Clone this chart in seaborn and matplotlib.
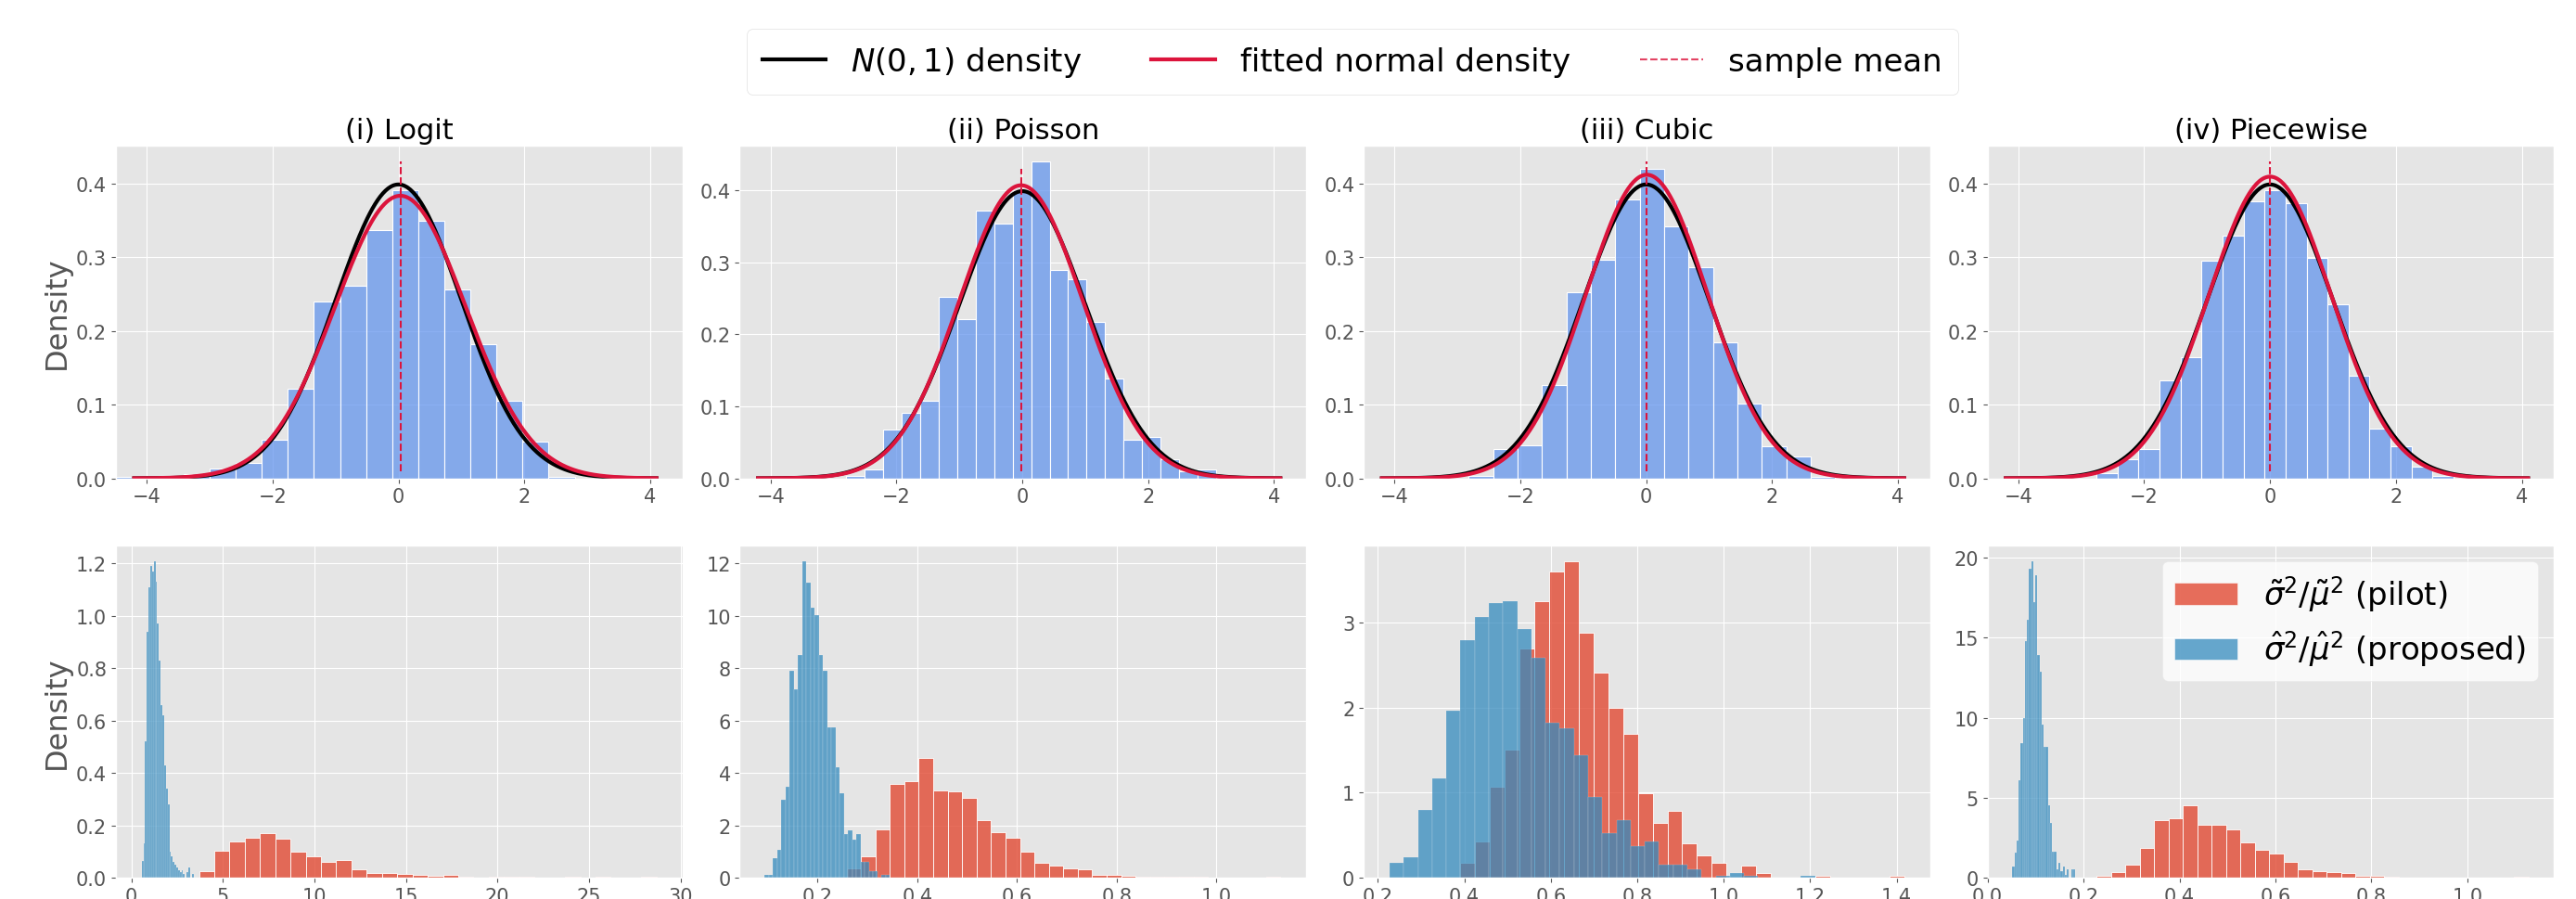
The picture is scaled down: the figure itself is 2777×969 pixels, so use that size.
import numpy as np
import pandas as pd
import matplotlib
matplotlib.use('Agg')
import matplotlib.pyplot as plt
import seaborn as sns
from matplotlib.lines import Line2D
from matplotlib.patches import Patch

plt.style.use('ggplot')
plt.rcParams['font.family'] = ['DejaVu Sans']

panel_titles = ['(i) Logit', '(ii) Poisson', '(iii) Cubic', '(iv) Piecewise']

# top row: standardized statistic, density height per bin
z_start = [-4.66, -2.80, -2.82, -2.76]
z_width = [0.4145, 0.294, 0.388, 0.334]
z_logit = [0.002, 0.0, 0.0, 0.006, 0.013, 0.021, 0.052, 0.122, 0.240, 0.262,
           0.337, 0.391, 0.349, 0.256, 0.182, 0.105, 0.050, 0.002]
z_poisson = [0.003, 0.012, 0.0675, 0.091, 0.108, 0.252, 0.221, 0.372, 0.354, 0.400,
             0.440, 0.289, 0.276, 0.217, 0.138, 0.053, 0.057, 0.026, 0.0095, 0.012]
z_cubic = [0.0034, 0.040, 0.045, 0.127, 0.252, 0.297, 0.378, 0.420, 0.342, 0.287,
           0.185, 0.102, 0.043, 0.030, 0.002]
z_piecewise = [0.0076, 0.026, 0.040, 0.133, 0.165, 0.295, 0.329, 0.376, 0.391, 0.373,
               0.299, 0.236, 0.139, 0.067, 0.044, 0.016, 0.003]
z_heights = [z_logit, z_poisson, z_cubic, z_piecewise]

# fitted normal parameters / sample means
fit_mean = [0.03, -0.02, 0.01, 0.0]
fit_sd = [1.04, 0.98, 0.968, 0.974]
curve_range = (-4.2, 4.1)
mean_line = (0.01, 0.43)

# bottom row: variance ratio histograms (30 bins each)
pilot_start = [3.70, 0.258, 0.3897, 0.227]
pilot_width = [0.833, 0.029, 0.03428, 0.030]
prop_start = [0.566, 0.0933, 0.227, 0.0516]
prop_width = [0.0945, 0.0084, 0.0328, 0.00437]

pilot_logit = [0.025, 0.104, 0.139, 0.152, 0.171, 0.148, 0.100, 0.081, 0.061, 0.066,
               0.033, 0.018, 0.018, 0.014, 0.011, 0.006, 0.011, 0.004, 0.0, 0.005,
               0.002, 0.002, 0.0, 0.0, 0.002, 0.0, 0.002, 0.0, 0.0, 0.002]
prop_logit = [0.065, 0.13, 0.52, 0.94, 1.11, 1.19, 1.17, 1.21, 1.13, 0.97,
              0.83, 0.66, 0.62, 0.43, 0.34, 0.28, 0.10, 0.08, 0.06, 0.05,
              0.04, 0.03, 0.02, 0.03, 0.015, 0.0, 0.02, 0.04, 0.0, 0.015]
pilot_poisson = [0.35, 0.83, 1.85, 3.57, 3.70, 4.56, 3.33, 3.29, 3.03, 2.19,
                 1.75, 1.53, 0.98, 0.57, 0.47, 0.34, 0.31, 0.12, 0.12, 0.08,
                 0.05, 0.02, 0.02, 0.02, 0.02, 0.0, 0.0, 0.0, 0.0, 0.03]
prop_poisson = [0.12, 0.12, 0.73, 1.08, 2.97, 3.47, 7.90, 7.19, 8.50, 12.09,
                11.26, 10.29, 10.02, 8.50, 7.89, 5.74, 5.74, 4.20, 3.23, 1.67,
                1.79, 1.44, 1.66, 0.61, 0.61, 0.26, 0.26, 0.0, 0.12, 0.12]
pilot_cubic = [0.17, 0.43, 1.07, 1.51, 2.70, 3.26, 3.61, 3.73, 2.88, 2.41,
               2.00, 1.69, 0.99, 0.64, 0.79, 0.40, 0.26, 0.175, 0.0, 0.145,
               0.05, 0.0, 0.0, 0.0, 0.02, 0.0, 0.0, 0.0, 0.0, 0.025]
prop_cubic = [0.18, 0.24, 0.80, 1.165, 1.97, 2.80, 3.07, 3.23, 3.26, 2.93,
              2.59, 1.82, 1.76, 1.44, 0.95, 0.52, 0.68, 0.375, 0.43, 0.153,
              0.153, 0.095, 0.0, 0.02, 0.055, 0.02, 0.0, 0.0, 0.0, 0.02]
pilot_piecewise = [0.1, 0.35, 0.83, 1.87, 3.59, 3.71, 4.54, 3.32, 3.28, 3.03,
                   2.18, 1.74, 1.51, 0.97, 0.54, 0.42, 0.33, 0.27, 0.135, 0.12,
                   0.08, 0.02, 0.02, 0.0, 0.02, 0.02, 0.02, 0.0, 0.0, 0.03]
prop_piecewise = [0.68, 1.58, 2.3, 6.1, 8.4, 10.0, 14.8, 16.1, 19.3, 19.8,
                  17.2, 18.9, 13.9, 12.9, 9.6, 8.2, 8.2, 4.5, 3.4, 1.6,
                  1.6, 0.5, 0.9, 0.4, 0.7, 0.2, 0.5, 0.0, 0.5, 0.5]
pilot_heights = [pilot_logit, pilot_poisson, pilot_cubic, pilot_piecewise]
prop_heights = [prop_logit, prop_poisson, prop_cubic, prop_piecewise]

top_xlim = (-4.49, 4.51)
bottom_xlim = [(-0.84, 30.1), (0.044, 1.18), (0.167, 1.477), (0.0, 1.18)]
bottom_xticks = [[0, 5, 10, 15, 20, 25, 30], [0.2, 0.4, 0.6, 0.8, 1.0],
                 [0.2, 0.4, 0.6, 0.8, 1.0, 1.2, 1.4], [0.0, 0.2, 0.4, 0.6, 0.8, 1.0]]
bottom_yticks = [[0.0, 0.2, 0.4, 0.6, 0.8, 1.0, 1.2], [0, 2, 4, 6, 8, 10, 12],
                 [0, 1, 2, 3], [0, 5, 10, 15, 20]]

HIST_BLUE = 'cornflowerblue'
RED = '#E24A33'
BLUE = '#348ABD'
CRIMSON = 'crimson'


def binned_hist(ax, start, width, heights, **kw):
    heights = np.asarray(heights, dtype=float)
    edges = start + width * np.arange(len(heights) + 1)
    df = pd.DataFrame({'value': (edges[:-1] + edges[1:]) / 2, 'dens': heights})
    sns.histplot(data=df, x='value', weights='dens', bins=list(edges),
                 stat='count', ax=ax, **kw)


fig, axes = plt.subplots(2, 4, figsize=(27.77, 9.70), dpi=100)
fig.subplots_adjust(left=0.045, right=0.9914, top=0.837, bottom=0.0237,
                    wspace=0.1015, hspace=0.201)

for i in range(4):
    ax = axes[0, i]
    binned_hist(ax, z_start[i], z_width[i], z_heights[i], color=HIST_BLUE,
                alpha=0.75, edgecolor='white', linewidth=0.8)
    xs = np.linspace(curve_range[0], curve_range[1], 400)
    std_pdf = np.exp(-xs ** 2 / 2) / np.sqrt(2 * np.pi)
    fit_pdf = np.exp(-(xs - fit_mean[i]) ** 2 / (2 * fit_sd[i] ** 2)) / (fit_sd[i] * np.sqrt(2 * np.pi))
    sns.lineplot(x=xs, y=std_pdf, ax=ax, color='black', linewidth=3)
    sns.lineplot(x=xs, y=fit_pdf, ax=ax, color=CRIMSON, linewidth=3)
    ax.vlines(fit_mean[i], mean_line[0], mean_line[1], color=CRIMSON,
              linestyle='--', linewidth=1.5)
    ax.set_xlim(*top_xlim)
    ax.set_xticks([-4, -2, 0, 2, 4])
    ax.set_yticks([0.0, 0.1, 0.2, 0.3, 0.4])
    ax.set_title(panel_titles[i], fontsize=22, color='black', pad=6)

    ax2 = axes[1, i]
    binned_hist(ax2, pilot_start[i], pilot_width[i], pilot_heights[i], color=RED,
                alpha=0.8, edgecolor='white', linewidth=0.6)
    binned_hist(ax2, prop_start[i], prop_width[i], prop_heights[i], color=BLUE,
                alpha=0.75, edgecolor=(1, 1, 1, 0.4), linewidth=0.3)
    ax2.set_xlim(*bottom_xlim[i])
    ax2.set_xticks(bottom_xticks[i])
    ax2.set_yticks(bottom_yticks[i])

for r in range(2):
    for c in range(4):
        ax = axes[r, c]
        ax.set_xlabel('')
        ax.set_ylabel('Density' if c == 0 else '', fontsize=23, color='#555555')
        ax.tick_params(labelsize=15, labelcolor='#555555')

ratio_handles = [Patch(facecolor=RED, alpha=0.8, edgecolor='white'),
                 Patch(facecolor=BLUE, alpha=0.75, edgecolor='white')]
ratio_labels = [r'$\tilde{\sigma}^2/\tilde{\mu}^2$ (pilot)',
                r'$\hat{\sigma}^2/\hat{\mu}^2$ (proposed)']
axes[1, 3].legend(ratio_handles, ratio_labels, loc='upper right', fontsize=24.5,
                  facecolor='white', framealpha=0.8, edgecolor='#e8e8e8')

top_handles = [Line2D([0], [0], color='black', linewidth=3),
               Line2D([0], [0], color=CRIMSON, linewidth=3),
               Line2D([0], [0], color=CRIMSON, linestyle='--', linewidth=1.5, alpha=0.8)]
top_labels = [r'$N(0,1)$ density', 'fitted normal density', 'sample mean']
fig.legend(top_handles, top_labels, loc='upper center', bbox_to_anchor=(0.525, 0.967),
           borderaxespad=0, ncol=3, fontsize=24.5, facecolor='white', framealpha=1,
           edgecolor='#e0e0e0', columnspacing=2.2, borderpad=0.5)

fig.savefig('out.png', dpi=100)
